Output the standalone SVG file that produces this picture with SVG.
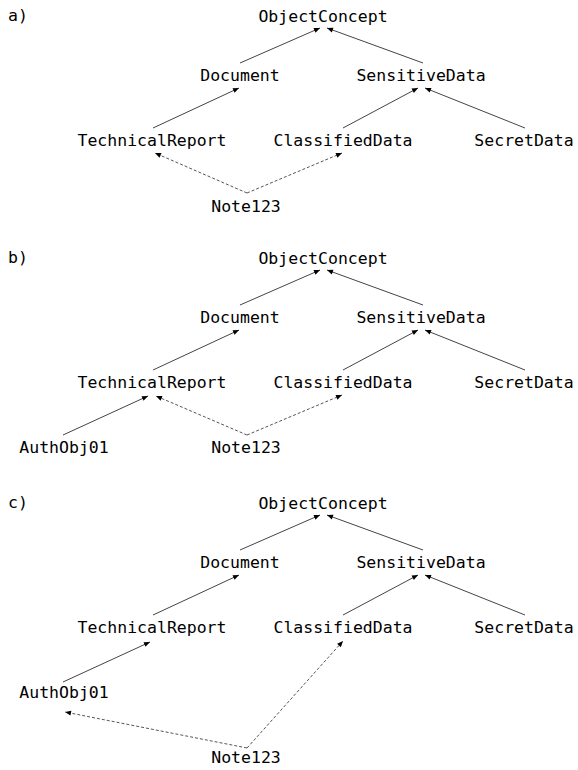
<svg xmlns="http://www.w3.org/2000/svg" width="578" height="770" viewBox="0 0 578 770">
<style>
text{font-family:"DejaVu Sans Mono","Liberation Mono",monospace;font-size:16.5px;fill:#000;text-anchor:middle}
text.lbl{text-anchor:start}
.e{stroke:#444;stroke-width:1;fill:none;marker-end:url(#ah)}
.d{stroke:#555;stroke-width:1;fill:none;stroke-dasharray:3,2;marker-end:url(#ah)}
</style>
<defs>
<marker id="ah" markerUnits="userSpaceOnUse" markerWidth="8" markerHeight="8" viewBox="0 0 8 8" refX="6.5" refY="4" orient="auto">
<path d="M0.5,1.5 L6.5,4 L0.5,6.5 Z" fill="#000"/>
</marker>
</defs>
<rect width="578" height="770" fill="#fff"/>

<g id="diagram-a">
<text class="lbl" x="8" y="21">a)</text>
<g id="connectors-a">
<line class="e" x1="240" y1="63" x2="320" y2="28"/>
<line class="e" x1="423" y1="63" x2="327" y2="28"/>
<line class="e" x1="153" y1="128" x2="239" y2="88"/>
<line class="e" x1="343" y1="128" x2="418" y2="88"/>
<line class="e" x1="525" y1="128" x2="425" y2="88"/>
<line class="d" x1="247" y1="193" x2="155" y2="153"/>
<line class="d" x1="247" y1="193" x2="342" y2="153"/>
</g>
<g id="a-ObjectConcept"><text x="323" y="22">ObjectConcept</text></g>
<g id="a-Document"><text x="240" y="81">Document</text></g>
<g id="a-SensitiveData"><text x="421" y="81">SensitiveData</text></g>
<g id="a-TechnicalReport"><text x="152" y="146">TechnicalReport</text></g>
<g id="a-ClassifiedData"><text x="343" y="146">ClassifiedData</text></g>
<g id="a-SecretData"><text x="524" y="146">SecretData</text></g>
<g id="a-Note123"><text x="246" y="212">Note123</text></g>
</g>

<g id="diagram-b">
<text class="lbl" x="8" y="263">b)</text>
<g id="connectors-b">
<line class="e" x1="240" y1="305" x2="320" y2="270"/>
<line class="e" x1="423" y1="305" x2="327" y2="270"/>
<line class="e" x1="153" y1="370" x2="239" y2="330"/>
<line class="e" x1="343" y1="370" x2="418" y2="330"/>
<line class="e" x1="525" y1="370" x2="425" y2="330"/>
<line class="e" x1="63" y1="435" x2="148" y2="396"/>
<line class="d" x1="247" y1="435" x2="156" y2="396"/>
<line class="d" x1="247" y1="435" x2="342" y2="395"/>
</g>
<g id="b-ObjectConcept"><text x="323" y="264">ObjectConcept</text></g>
<g id="b-Document"><text x="240" y="323">Document</text></g>
<g id="b-SensitiveData"><text x="421" y="323">SensitiveData</text></g>
<g id="b-TechnicalReport"><text x="152" y="388">TechnicalReport</text></g>
<g id="b-ClassifiedData"><text x="343" y="388">ClassifiedData</text></g>
<g id="b-SecretData"><text x="524" y="388">SecretData</text></g>
<g id="b-AuthObj01"><text x="64" y="453">AuthObj01</text></g>
<g id="b-Note123"><text x="246" y="453">Note123</text></g>
</g>

<g id="diagram-c">
<text class="lbl" x="8" y="508">c)</text>
<g id="connectors-c">
<line class="e" x1="240" y1="550" x2="320" y2="515"/>
<line class="e" x1="423" y1="550" x2="327" y2="515"/>
<line class="e" x1="153" y1="615" x2="239" y2="575"/>
<line class="e" x1="343" y1="615" x2="418" y2="575"/>
<line class="e" x1="525" y1="615" x2="425" y2="575"/>
<line class="e" x1="63" y1="682" x2="150" y2="642"/>
<line class="d" x1="247" y1="748" x2="65" y2="712"/>
<line class="d" x1="247" y1="748" x2="343" y2="641"/>
</g>
<g id="c-ObjectConcept"><text x="323" y="509">ObjectConcept</text></g>
<g id="c-Document"><text x="240" y="568">Document</text></g>
<g id="c-SensitiveData"><text x="421" y="568">SensitiveData</text></g>
<g id="c-TechnicalReport"><text x="152" y="633">TechnicalReport</text></g>
<g id="c-ClassifiedData"><text x="343" y="633">ClassifiedData</text></g>
<g id="c-SecretData"><text x="524" y="633">SecretData</text></g>
<g id="c-AuthObj01"><text x="64" y="698">AuthObj01</text></g>
<g id="c-Note123"><text x="246" y="763">Note123</text></g>
</g>
</svg>
